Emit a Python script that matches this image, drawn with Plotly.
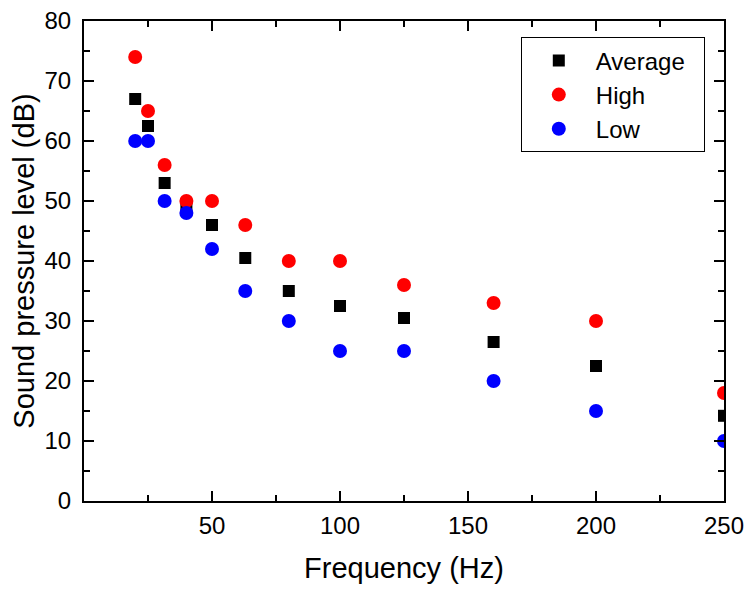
import plotly.graph_objects as go

freq = [20, 25, 31.5, 40, 50, 63, 80, 100, 125, 160, 200, 250]
average = [67, 62.5, 53, 49, 46, 40.5, 35, 32.5, 30.5, 26.5, 22.5, 14.2]
high = [74, 65, 56, 50, 50, 46, 40, 40, 36, 33, 30, 18]
low = [60, 60, 50, 48, 42, 35, 30, 25, 25, 20, 15, 10]

x_ticks = [50, 100, 150, 200, 250]
x_minor = [25, 75, 125, 175, 225]

FONT = "Liberation Sans, Arial, sans-serif"
PAD = "\u00a0\u00a0"

fig = go.Figure()
fig.add_trace(go.Scatter(x=freq, y=average, mode="markers", name="Average" + PAD,
                         marker=dict(symbol="square", size=12, color="black")))
fig.add_trace(go.Scatter(x=freq, y=high, mode="markers", name="High" + PAD,
                         marker=dict(symbol="circle", size=14, color="#FF0000")))
fig.add_trace(go.Scatter(x=freq, y=low, mode="markers", name="Low" + PAD,
                         marker=dict(symbol="circle", size=14, color="#0000FF")))

axis_common = dict(
    showline=True, linecolor="black", linewidth=2, mirror="ticks",
    ticks="inside", ticklen=10, tickwidth=2, tickcolor="black",
    showgrid=False, zeroline=False, automargin=False,
    ticklabeloverflow="allow",
    tickfont=dict(family=FONT, size=24, color="black"),
)

fig.update_xaxes(
    range=[0, 250], tickmode="array", tickvals=x_ticks,
    minor=dict(tickmode="array", tickvals=x_minor, ticks="inside", ticklen=6,
               tickwidth=2, tickcolor="black", showgrid=False),
    title=dict(text="Frequency (Hz)", font=dict(family=FONT, size=29, color="black"), standoff=20),
    ticklabelstandoff=2,
    **axis_common,
)
fig.update_yaxes(
    range=[0, 80], tickmode="linear", tick0=0, dtick=10,
    minor=dict(tickmode="linear", tick0=0, dtick=5, ticks="inside", ticklen=6,
               tickwidth=2, tickcolor="black", showgrid=False),
    title=dict(text="Sound pressure level (dB)", font=dict(family=FONT, size=29, color="black"), standoff=10),
    ticklabelstandoff=6,
    **axis_common,
)

# page body adds an 8px offset, so the figure's plot area is shifted accordingly
fig.update_layout(
    width=755, height=596,
    margin=dict(l=76, r=39, t=13, b=103),
    plot_bgcolor="white", paper_bgcolor="white",
    font=dict(family=FONT, color="black"),
    legend=dict(
        x=0.6825, y=0.966, xanchor="left", yanchor="top",
        bordercolor="black", borderwidth=1, bgcolor="white",
        font=dict(family=FONT, size=24, color="black"),
        itemwidth=64, tracegroupgap=0,
    ),
    showlegend=True,
)

fig.write_html("out.html")
